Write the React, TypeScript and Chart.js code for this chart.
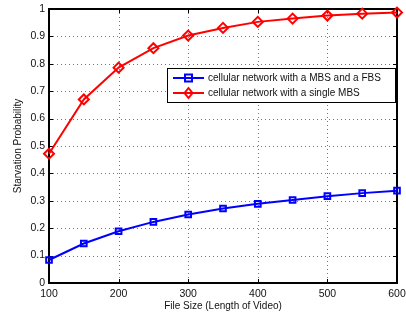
import React, { useEffect, useRef } from "react";
import { Chart, registerables } from "chart.js";
Chart.register(...registerables);

const fileSizes = [100, 150, 200, 250, 300, 350, 400, 450, 500, 550, 600];
const mbsFbs = [0.084, 0.144, 0.189, 0.223, 0.25, 0.272, 0.289, 0.303, 0.317, 0.328, 0.337];
const singleMbs = [0.472, 0.67, 0.786, 0.857, 0.903, 0.931, 0.953, 0.965, 0.976, 0.983, 0.987];
const seriesLabels = ["cellular network with a MBS and a FBS", "cellular network with a single MBS"];
const seriesColors = ["#0000ff", "#ff0000"];
const xTitle = "File Size (Length of Video)";
const yTitle = "Starvation Probability";
const FONT = "'Liberation Sans', Arial, sans-serif";

function drawMarker(ctx: CanvasRenderingContext2D, kind: string, x: number, y: number, color: string) {
  ctx.save();
  ctx.strokeStyle = color;
  ctx.lineWidth = 2;
  ctx.beginPath();
  if (kind === "rect") {
    ctx.rect(x - 3.5, y - 3.5, 7, 7);
  } else {
    ctx.moveTo(x, y - 5);
    ctx.lineTo(x + 4, y);
    ctx.lineTo(x, y + 5);
    ctx.lineTo(x - 4, y);
    ctx.closePath();
  }
  ctx.stroke();
  ctx.restore();
}

const framePlugin = {
  id: "frame",
  beforeDatasetsDraw(chart: any) {
    const { ctx, chartArea: a, scales } = chart;
    ctx.save();
    // dotted grid
    ctx.strokeStyle = "#777";
    ctx.lineWidth = 1;
    ctx.setLineDash([1, 3]);
    ctx.beginPath();
    scales.y.ticks.forEach((t: any) => {
      const y = Math.round(scales.y.getPixelForValue(t.value)) + 0.5;
      ctx.moveTo(a.left, y); ctx.lineTo(a.right, y);
    });
    scales.x.ticks.forEach((t: any) => {
      const x = Math.round(scales.x.getPixelForValue(t.value)) + 0.5;
      ctx.moveTo(x, a.top); ctx.lineTo(x, a.bottom);
    });
    ctx.stroke();
    ctx.setLineDash([]);
    // inward tick marks
    ctx.strokeStyle = "#000";
    const tl = 4;
    ctx.beginPath();
    scales.y.ticks.forEach((t: any) => {
      const y = Math.round(scales.y.getPixelForValue(t.value)) + 0.5;
      ctx.moveTo(a.left, y); ctx.lineTo(a.left + tl, y);
      ctx.moveTo(a.right, y); ctx.lineTo(a.right - tl, y);
    });
    scales.x.ticks.forEach((t: any) => {
      const x = Math.round(scales.x.getPixelForValue(t.value)) + 0.5;
      ctx.moveTo(x, a.bottom); ctx.lineTo(x, a.bottom - tl);
      ctx.moveTo(x, a.top); ctx.lineTo(x, a.top + tl);
    });
    ctx.stroke();
    ctx.lineWidth = 2;
    ctx.strokeRect(a.left, a.top, a.right - a.left, a.bottom - a.top);
    // axis titles
    ctx.fillStyle = "#111";
    ctx.font = `10px ${FONT}`;
    ctx.textAlign = "center";
    ctx.textBaseline = "middle";
    ctx.fillText(xTitle, (a.left + a.right) / 2, 306);
    ctx.translate(18, (a.top + a.bottom) / 2);
    ctx.rotate(-Math.PI / 2);
    ctx.fillText(yTitle, 0, 0);
    ctx.restore();
  },
};

const legendPlugin = {
  id: "boxLegend",
  afterDatasetsDraw(chart: any) {
    const { ctx } = chart;
    const x0 = 167, y0 = 68, w = 228, h = 34;
    ctx.save();
    ctx.fillStyle = "#fff";
    ctx.fillRect(x0, y0, w, h);
    ctx.strokeStyle = "#000";
    ctx.lineWidth = 1;
    ctx.strokeRect(x0 + 0.5, y0 + 0.5, w, h);
    const rows = [78, 93];
    const kinds = ["rect", "rectRot"];
    rows.forEach((ry, i) => {
      ctx.strokeStyle = seriesColors[i];
      ctx.lineWidth = 2;
      ctx.beginPath();
      ctx.moveTo(173, ry);
      ctx.lineTo(204, ry);
      ctx.stroke();
      drawMarker(ctx, kinds[i], 188.5, ry, seriesColors[i]);
      ctx.fillStyle = "#111";
      ctx.font = `10px ${FONT}`;
      ctx.textAlign = "left";
      ctx.textBaseline = "middle";
      ctx.fillText(seriesLabels[i], 208, ry + 0.5);
    });
    ctx.restore();
  },
};

export default function App() {
  const ref = useRef<HTMLCanvasElement | null>(null);
  useEffect(() => {
    document.body.style.margin = "0";
    const canvas = ref.current!;
    const chart = new Chart(canvas, {
      type: "line",
      data: {
        datasets: [
          {
            label: seriesLabels[0],
            data: fileSizes.map((x, i) => ({ x, y: mbsFbs[i] })),
            borderColor: seriesColors[0],
            backgroundColor: "rgba(0,0,0,0)",
            borderWidth: 2,
            pointStyle: "rect",
            pointRadius: 4,
            pointBorderWidth: 2,
            pointBorderColor: seriesColors[0],
            pointBackgroundColor: "rgba(0,0,0,0)",
            clip: false as any,
            tension: 0,
          },
          {
            label: seriesLabels[1],
            data: fileSizes.map((x, i) => ({ x, y: singleMbs[i] })),
            borderColor: seriesColors[1],
            backgroundColor: "rgba(0,0,0,0)",
            borderWidth: 2,
            pointStyle: "rectRot",
            pointRadius: 5,
            pointBorderWidth: 2,
            pointBorderColor: seriesColors[1],
            pointBackgroundColor: "rgba(0,0,0,0)",
            clip: false as any,
            tension: 0,
          },
        ],
      },
      options: {
        responsive: false,
        animation: false,
        devicePixelRatio: 1,
        layout: { padding: { top: 9, right: 9, left: 0, bottom: 0 } },
        plugins: { legend: { display: false }, tooltip: { enabled: false } },
        scales: {
          x: {
            type: "linear",
            min: 100,
            max: 600,
            afterFit: (s: any) => { s.height = 31; s.paddingRight = 0; s.paddingLeft = 0; },
            ticks: {
              stepSize: 100,
              padding: 5,
              color: "#111",
              font: { family: FONT, size: 10.5 },
              maxRotation: 0,
            },
            grid: { display: false, drawTicks: false },
            border: { display: false },
          },
          y: {
            type: "linear",
            min: 0,
            max: 1,
            afterFit: (s: any) => { s.width = 49; s.paddingTop = 0; s.paddingBottom = 0; },
            ticks: {
              stepSize: 0.1,
              padding: 4,
              color: "#111",
              font: { family: FONT, size: 10.5 },
              callback: (v: any) => String(Number(Number(v).toFixed(1))),
            },
            grid: { display: false, drawTicks: false },
            border: { display: false },
          },
        },
      },
      plugins: [framePlugin, legendPlugin],
    } as any);
    return () => chart.destroy();
  }, []);
  return <canvas ref={ref} width={406} height={314} style={{ display: "block" }} />;
}
